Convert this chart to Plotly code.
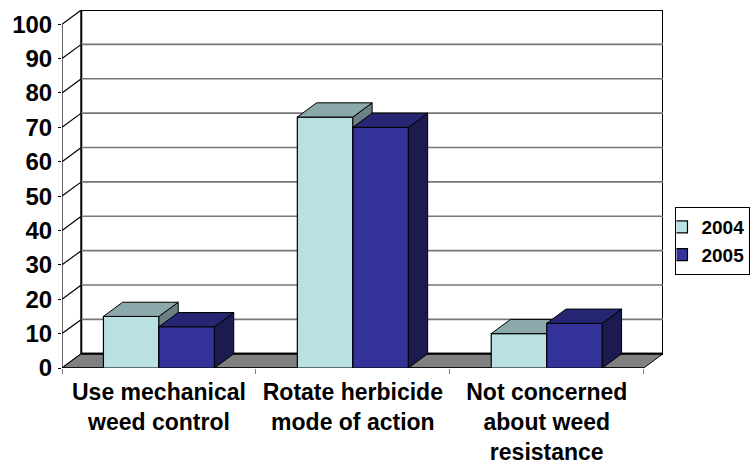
import plotly.graph_objects as go

categories = ["Use mechanical<br>weed control", "Rotate herbicide<br>mode of action", "Not concerned<br>about weed<br>resistance"]
series_names = ["2004", "2005"]
values_2004 = [15, 73, 10]
values_2005 = [12, 70, 13]
y_ticks = list(range(0, 101, 10))

front_colors = ["#B9E0E3", "#333399"]
top_colors = ["#8BA8AA", "#262673"]
side_colors = ["#6B8082", "#1B1B50"]

W, H = 751, 464
L, R, T, B = 61.5, 663.5, 10.3, 367.7
depth_x_px, depth_y_px = 19.3, 14.2
unit_x = (644.0 - L) / 3
unit_y = (B - 24.3) / 100
ddx = depth_x_px / unit_x
ddy = depth_y_px / unit_y
xmin, xmax = -0.5, 2.5 + ddx
ymin, ymax = 0, 100 + ddy
bar_w = 55.6 / unit_x

fig = go.Figure()


def poly(xs, ys, fill, xa="x", ya="y", line="#000000", lw=1):
    fig.add_trace(go.Scatter(x=xs, y=ys, mode="lines", fill="toself" if fill else None, fillcolor=fill,
                             line=dict(color=line, width=lw), xaxis=xa, yaxis=ya, showlegend=False,
                             hoverinfo="skip", cliponaxis=False))


# back wall
poly([xmin + ddx, xmax, xmax, xmin + ddx, xmin + ddx], [ddy, ddy, ymax, ymax, ddy], "#FFFFFF", lw=2)
# gridlines on the back wall and the left wall
gx, gy, lx, ly = [], [], [], []
for v in y_ticks[1:-1]:
    gx += [xmin + ddx, xmax, None]
    gy += [v + ddy, v + ddy, None]
for v in y_ticks:
    lx += [xmin, xmin + ddx, None]
    ly += [v, v + ddy, None]
poly(gx, gy, None, line="#777777", lw=1.6)
poly(lx, ly, None, lw=1.2)
# floor
poly([xmin, xmin + ddx, xmax, xmax - ddx, xmin], [0, ddy, ddy, 0, 0], "#808080", lw=1)
poly([xmin + ddx, xmax], [ddy, ddy], None, lw=2)
poly([xmin, xmin], [0, 100], None, lw=1.2)
poly([xmin, xmax - ddx], [0, 0], None, lw=1.5)

for i, vals in enumerate([values_2004, values_2005]):
    n = str(i + 2)
    xa, ya = "x" + n, "y" + n
    fig.add_trace(go.Bar(x=[0, 1, 2], y=vals, name=series_names[i], width=bar_w,
                         offset=-bar_w if i == 0 else 0,
                         marker=dict(color=front_colors[i], line=dict(color="#000000", width=1.2)),
                         xaxis=xa, yaxis=ya, hoverinfo="skip", showlegend=True))
    for c, v in enumerate(vals):
        x0 = c - bar_w if i == 0 else c
        x1 = x0 + bar_w
        poly([x1, x1 + ddx, x1 + ddx, x1, x1], [0, ddy, v + ddy, v, 0], side_colors[i], xa, ya)
        poly([x0, x1, x1 + ddx, x0 + ddx, x0], [v, v, v + ddy, v + ddy, v], top_colors[i], xa, ya)

font = "Liberation Sans, Arial, sans-serif"
layout = dict(
    width=W, height=H, autosize=False,
    margin=dict(l=L, r=W - R, t=T, b=H - B, pad=0, autoexpand=False),
    paper_bgcolor="#FFFFFF", plot_bgcolor="rgba(0,0,0,0)",
    barmode="overlay", showlegend=True,
    xaxis=dict(range=[xmin, xmax], tickmode="array", tickvals=[0, 1, 2], ticktext=categories,
               tickangle=0, tickfont=dict(family=font, size=23, color="#000000", weight="bold"), ticks="", showgrid=False,
               zeroline=False, showline=False, ticklabelstandoff=8, automargin=False,
               minor=dict(tickmode="array", tickvals=[-0.5, 0.5, 1.5, 2.5], ticks="outside", ticklen=5,
                          tickcolor="#808080", tickwidth=1.2, showgrid=False)),
    yaxis=dict(range=[ymin, ymax], tickmode="array", tickvals=y_ticks, ticks="outside", ticklen=3,
               tickcolor="#000000", tickwidth=1.2, showgrid=False, zeroline=False, showline=False, automargin=False,
               tickfont=dict(family=font, size=24, color="#000000", weight="bold"), ticklabelstandoff=1),
    legend=dict(x=(676 - L) / (R - L), y=1 - (207 - T) / (B - T), xanchor="left", yanchor="top", bgcolor="#FFFFFF",
                bordercolor="#000000", borderwidth=1, indentation=-15,
                font=dict(family=font, size=19, color="#000000", weight="bold")),
)
for n in ("2", "3"):
    layout["xaxis" + n] = dict(range=[xmin, xmax], overlaying="x", visible=False)
    layout["yaxis" + n] = dict(range=[ymin, ymax], overlaying="y", visible=False)
fig.update_layout(**layout)
fig.write_html("out.html", config=dict(displayModeBar=False),
               post_script="document.body.style.margin='0';document.body.style.overflow='hidden';")
